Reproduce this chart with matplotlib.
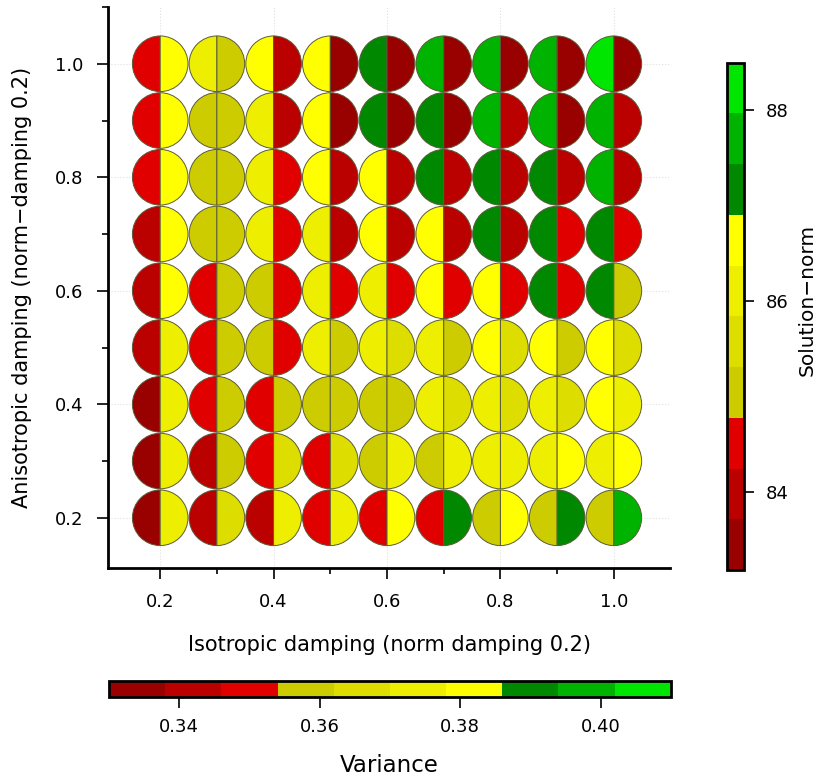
import matplotlib
matplotlib.use('Agg')
import matplotlib.pyplot as plt
import numpy as np
from matplotlib.colors import ListedColormap, Normalize
from matplotlib.patches import Wedge
from matplotlib.cm import ScalarMappable
from matplotlib.ticker import MultipleLocator

plt.rcParams['font.family'] = ['DejaVu Sans']

# damping grid
iso_damping = [0.2, 0.3, 0.4, 0.5, 0.6, 0.7, 0.8, 0.9, 1.0]
aniso_damping = [0.2, 0.3, 0.4, 0.5, 0.6, 0.7, 0.8, 0.9, 1.0]

# solution norm, one row per anisotropic damping (0.2 -> 1.0)
solution_norm = [
    [83.19, 83.90, 84.10, 84.40, 84.60, 84.70, 85.00, 85.10, 85.20],
    [83.50, 84.00, 84.40, 84.60, 84.90, 85.10, 85.90, 86.00, 86.10],
    [83.60, 84.30, 84.50, 84.90, 85.20, 85.90, 86.00, 86.20, 86.50],
    [83.80, 84.40, 84.90, 85.90, 86.00, 86.20, 86.40, 86.50, 86.70],
    [83.90, 84.50, 85.00, 86.00, 86.20, 86.50, 86.70, 87.00, 87.30],
    [84.00, 84.90, 86.00, 86.20, 86.50, 86.80, 87.10, 87.30, 87.35],
    [84.40, 85.00, 86.10, 86.45, 86.70, 87.10, 87.30, 87.38, 87.60],
    [84.50, 85.10, 86.20, 86.60, 87.00, 87.20, 87.60, 87.80, 87.90],
    [84.70, 86.00, 86.50, 86.80, 87.30, 87.70, 87.90, 87.85, 88.49],
]

# variance, same layout
variance = [
    [0.372, 0.368, 0.373, 0.375, 0.380, 0.389, 0.382, 0.391, 0.397],
    [0.371, 0.360, 0.365, 0.367, 0.372, 0.374, 0.376, 0.379, 0.381],
    [0.371, 0.358, 0.357, 0.359, 0.360, 0.364, 0.366, 0.368, 0.372],
    [0.371, 0.357, 0.352, 0.358, 0.363, 0.361, 0.364, 0.361, 0.365],
    [0.380, 0.356, 0.350, 0.349, 0.348, 0.349, 0.350, 0.351, 0.355],
    [0.381, 0.357, 0.347, 0.344, 0.343, 0.342, 0.345, 0.347, 0.348],
    [0.382, 0.358, 0.348, 0.343, 0.341, 0.340, 0.342, 0.341, 0.343],
    [0.383, 0.359, 0.342, 0.336, 0.334, 0.333, 0.339, 0.335, 0.340],
    [0.384, 0.360, 0.341, 0.335, 0.333, 0.332, 0.334, 0.333, 0.331],
]

palette = ['#990000', '#bb0000', '#e00000',
           '#cccc00', '#dddd00', '#eeee00', '#ffff00',
           '#008800', '#00b300', '#00e600']
cmap = ListedColormap(palette)

sn = np.array(solution_norm)
var = np.array(variance)
sn_norm = Normalize(vmin=sn.min(), vmax=sn.max())
var_norm = Normalize(vmin=0.33, vmax=0.41)

fig = plt.figure(figsize=(8.29, 7.8), dpi=100)
ax = fig.add_axes([0.1303, 0.2714, 0.6779, 0.7196])

radius = 0.049
edge = '#5a5a3c'
for i, yv in enumerate(aniso_damping):
    for j, xv in enumerate(iso_damping):
        ax.add_patch(Wedge((xv, yv), radius, 90, 270,
                           facecolor=cmap(sn_norm(sn[i, j])),
                           edgecolor=edge, linewidth=0.7, zorder=3))
        ax.add_patch(Wedge((xv, yv), radius, 270, 90,
                           facecolor=cmap(var_norm(var[i, j])),
                           edgecolor=edge, linewidth=0.7, zorder=3))

ax.set_xlim(0.108, 1.099)
ax.set_ylim(0.111, 1.100)
ax.xaxis.set_minor_locator(MultipleLocator(0.1))
ax.yaxis.set_minor_locator(MultipleLocator(0.1))
ax.set_xticks([0.2, 0.4, 0.6, 0.8, 1.0])
ax.set_yticks([0.2, 0.4, 0.6, 0.8, 1.0])
ax.set_xticklabels(['0.2', '0.4', '0.6', '0.8', '1.0'])
ax.set_yticklabels(['0.2', '0.4', '0.6', '0.8', '1.0'])
ax.tick_params(which='major', direction='out', length=8, width=1.2,
               labelsize=13, pad=10)
ax.tick_params(which='minor', direction='out', length=4.5, width=1.2)
ax.grid(True, which='major', color='#e0e0e0', linestyle=':', linewidth=0.8,
        zorder=0)
ax.set_axisbelow(True)
for s in ['top', 'right']:
    ax.spines[s].set_visible(False)
for s in ['left', 'bottom']:
    ax.spines[s].set_linewidth(2)

fig.text(0.470, 0.173, 'Isotropic damping (norm damping 0.2)',
         ha='center', va='center', fontsize=15)
fig.text(0.027, 0.632, 'Anisotropic damping (norm\u2212damping 0.2)',
         ha='center', va='center', rotation=90, fontsize=15)

# vertical colour key
cax_v = fig.add_axes([0.8775, 0.2692, 0.0195, 0.6504])
cb_v = fig.colorbar(ScalarMappable(norm=sn_norm, cmap=cmap), cax=cax_v)
cb_v.set_ticks([84, 86, 88])
cb_v.ax.tick_params(length=7, width=1.2, labelsize=13, pad=9)
cb_v.outline.set_linewidth(2)
fig.text(0.974, 0.615, 'Solution\u2212norm', rotation=90,
         ha='center', va='center', fontsize=14.5)

# horizontal colour key
cax_h = fig.add_axes([0.1315, 0.106, 0.6776, 0.0209])
cb_h = fig.colorbar(ScalarMappable(norm=var_norm, cmap=cmap), cax=cax_h,
                    orientation='horizontal')
cb_h.set_ticks([0.34, 0.36, 0.38, 0.40])
cb_h.set_ticklabels(['0.34', '0.36', '0.38', '0.40'])
cb_h.ax.tick_params(length=8, width=1.2, labelsize=13, pad=7)
cb_h.outline.set_linewidth(2)
fig.text(0.470, 0.019, 'Variance', ha='center', va='center', fontsize=16.5)

fig.savefig('out.png', dpi=100)
